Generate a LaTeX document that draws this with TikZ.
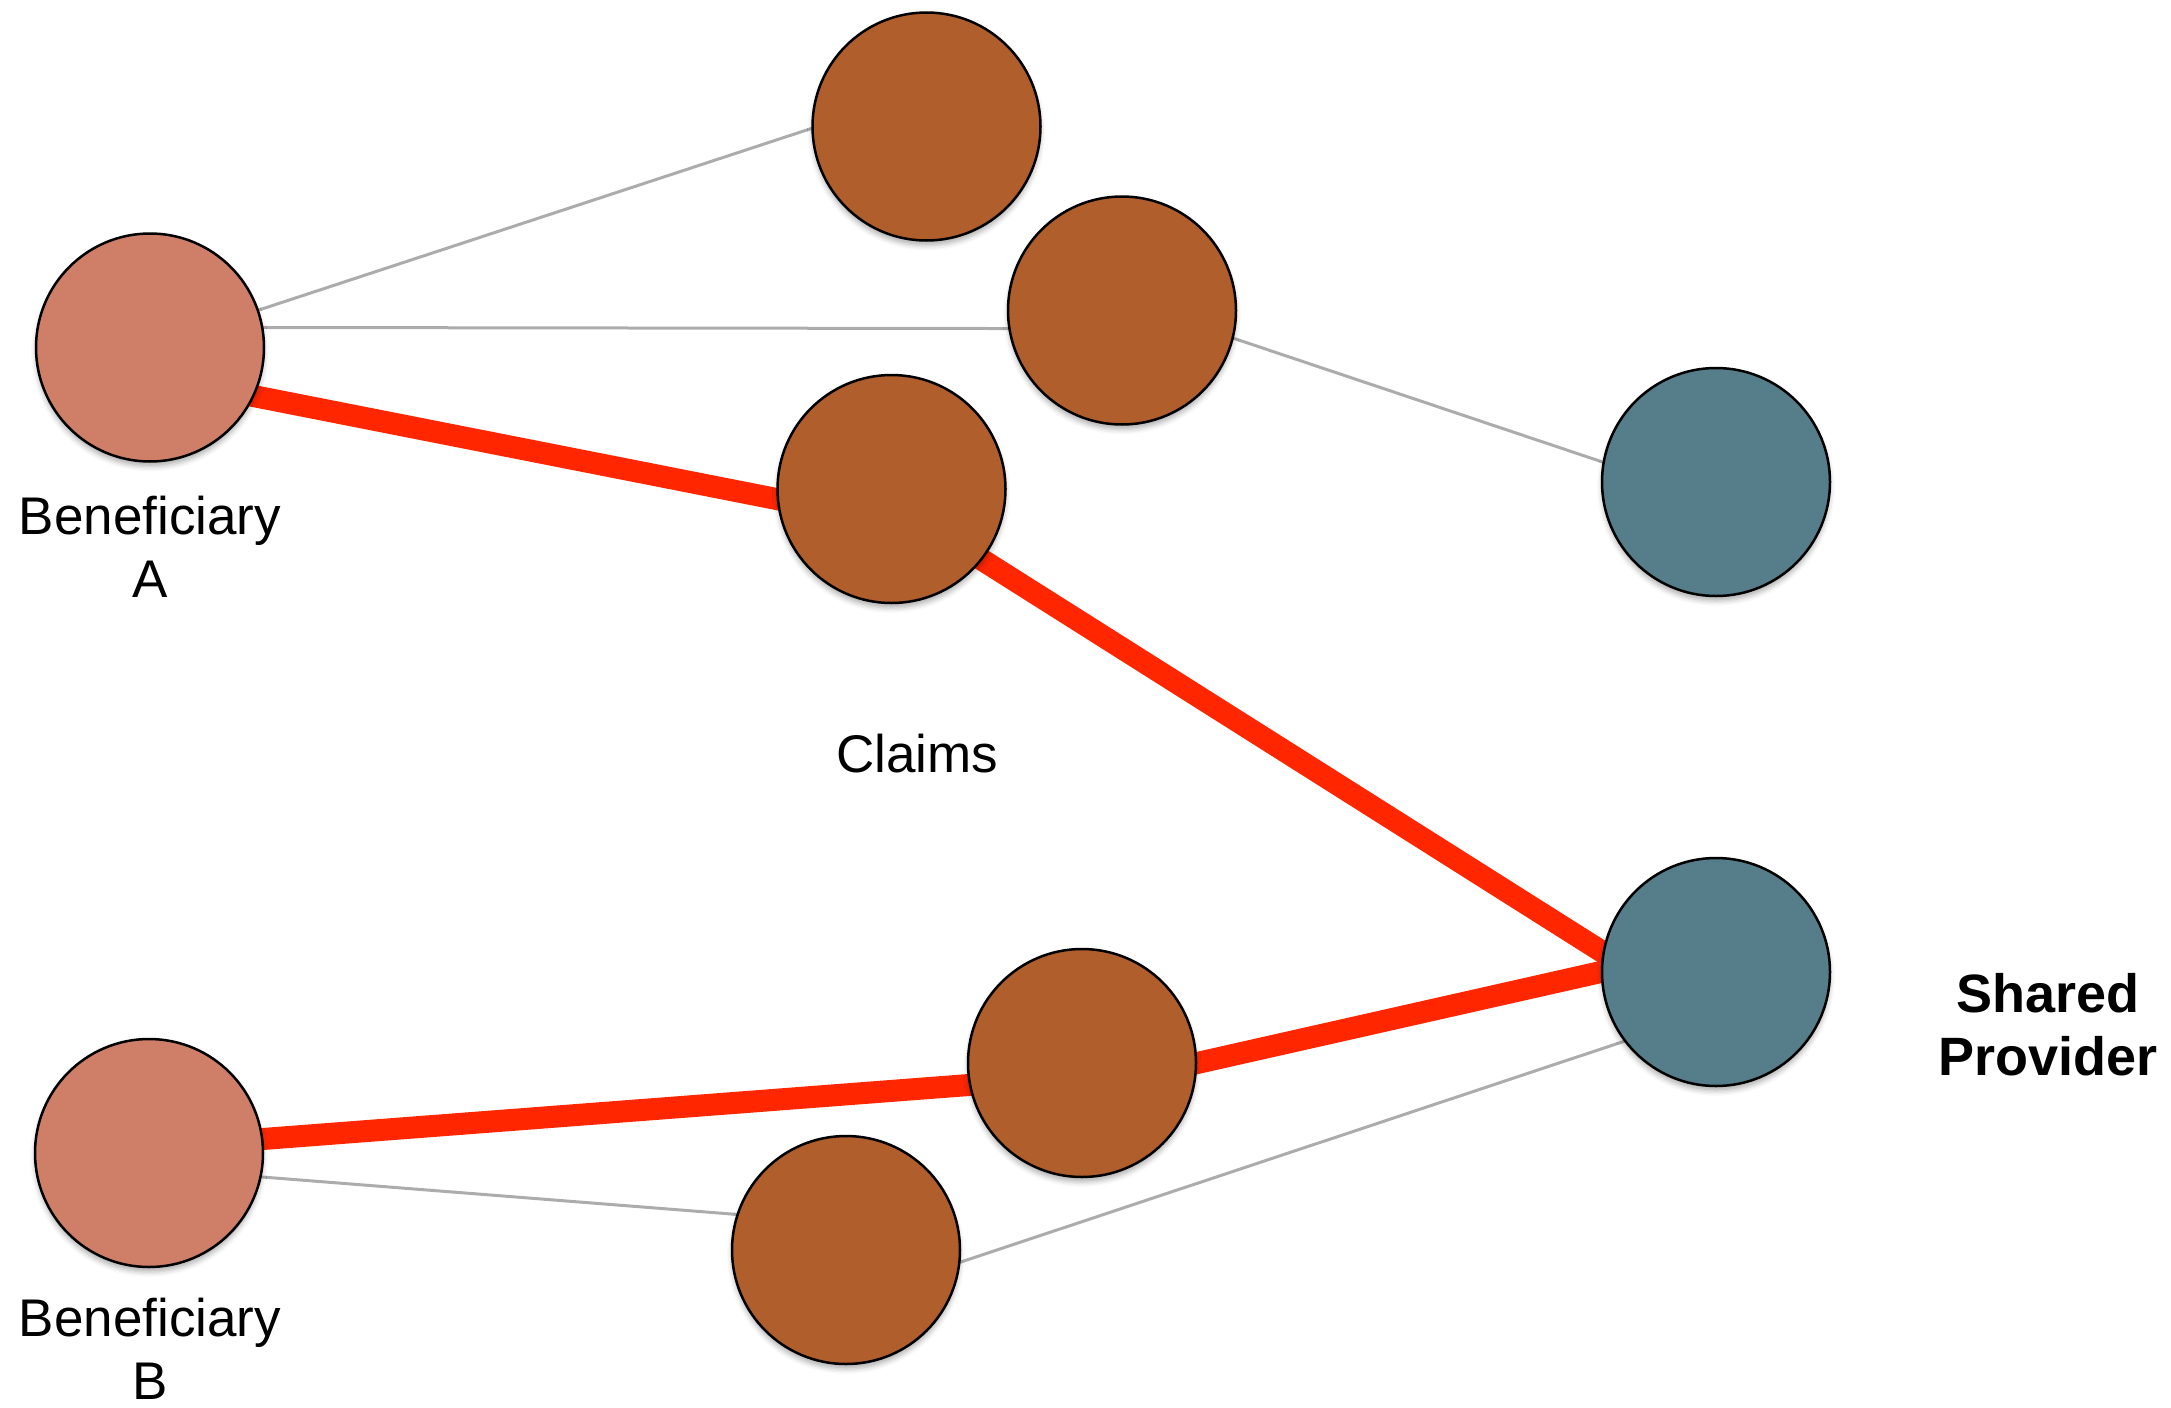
\documentclass[tikz,border=0pt]{standalone}
\usepackage{fontspec}
\setmainfont{Liberation Sans}
\usetikzlibrary{shadows.blur}
\pgfdeclarelayer{background}
\pgfsetlayers{background,main}

\definecolor{benef}{RGB}{207,127,104}
\definecolor{claimc}{RGB}{176,94,43}
\definecolor{provc}{RGB}{85,125,138}
\definecolor{hotred}{RGB}{255,38,0}
\definecolor{thinline}{RGB}{172,172,172}

\begin{document}
\begin{tikzpicture}[x=1pt,y=-1pt,
  dot/.style={circle, draw=black, line width=2.5pt, minimum size=228pt, inner sep=0pt,
    blur shadow={shadow xshift=0pt, shadow yshift=-5pt, shadow blur radius=5pt, shadow opacity=30}},
  beneficiary/.style={dot, fill=benef},
  claim/.style={dot, fill=claimc},
  provider/.style={dot, fill=provc},
  link/.style={draw=thinline, line width=3pt, shorten <=-12pt, shorten >=-12pt},
  hotlink/.style={draw=hotred, line width=22pt, shorten <=-16pt, shorten >=-16pt},
  lbl/.style={font=\fontsize{53}{63}\selectfont, align=center, anchor=base, inner sep=0pt}]
\useasboundingbox (0,0) rectangle (2171,1408);

% beneficiaries
\node[beneficiary] (benA) at (150,347.5) {};
\node[beneficiary] (benB) at (149,1153) {};

% claims
\node[claim] (c1) at (926.5,126.5) {};
\node[claim] (c2) at (1122,310.5) {};
\node[claim] (c3) at (891.5,489) {};
\node[claim] (c4) at (1082,1063) {};
\node[claim] (c5) at (846,1250) {};

% providers
\node[provider] (p1) at (1716,482) {};
\node[provider] (shared) at (1716,972) {};

% labels (base anchor sits on the last line)
\node[lbl] (labA) at (150,597) {Beneficiary\\A};
\node[lbl] (labB) at (150,1399) {Beneficiary\\B};
\node[lbl] (labC) at (917,772) {Claims};
\node[lbl, font=\fontsize{54}{63}\selectfont\bfseries] (labP) at (2048,1075) {Shared\\Provider};

% connectors, kept behind the circles
\begin{pgfonlayer}{background}
  \draw[link] (benA.19) -- (c1.181);
  \draw[link] (benA.10) -- (c2.189);
  \draw[link] (c2.-14) -- (p1.170);
  \draw[link] (benB.-12) -- (c5.162);
  \draw[link] (c5.-6) -- (shared.217);
  \draw[hotlink] (benA.-25) -- (c3.185);
  \draw[hotlink] (c3.-38) -- (shared.170);
  \draw[hotlink] (benB.7) -- (c4.191);
  \draw[hotlink] (c4.0) -- (shared.180);
\end{pgfonlayer}
\end{tikzpicture}
\end{document}
